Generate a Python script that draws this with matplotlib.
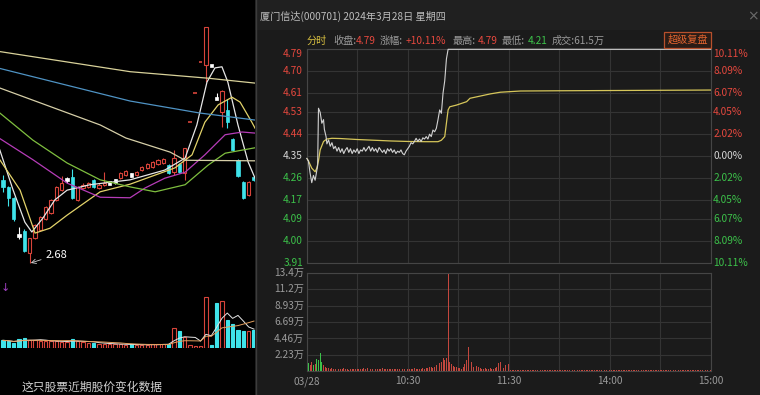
import matplotlib
matplotlib.use('Agg')
import matplotlib.pyplot as plt
import pandas as pd
from matplotlib.patches import Rectangle

plt.rcParams['font.family'] = ['Noto Sans CJK SC', 'DejaVu Sans']

W, H = 760, 395

# ---------------- background daily chart (price in 元, volume in 万手) ----------------
opens = [4.21, 4.08, 3.88, 3.19, 3.27, 2.86, 3.14, 3.29, 3.49, 3.60,
         3.84, 4.02, 4.21, 4.26, 3.84, 4.06, 4.08, 4.21, 4.06, 4.12,
         4.15, 4.19, 4.24, 4.30, 4.30, 4.30, 4.39, 4.43, 4.45, 4.50,
         4.52, 4.48, 4.35, 4.50, 4.34, 5.27, 5.80, 6.38, 6.32, 6.32,
         5.71, 5.46, 5.50, 4.96, 4.58, 4.17, 3.93, 4.26]
closes = [4.08, 3.88, 3.49, 3.19, 2.90, 3.14, 3.38, 3.53, 3.71, 3.84,
          4.08, 4.15, 4.21, 3.88, 4.08, 4.12, 4.15, 4.08, 4.12, 4.15,
          4.15, 4.19, 4.34, 4.37, 4.30, 4.35, 4.45, 4.50, 4.54, 4.58,
          4.60, 4.34, 4.61, 4.35, 4.79, 5.27, 5.80, 6.38, 7.02, 6.32,
          5.69, 5.84, 5.27, 4.76, 4.28, 3.88, 4.17, 4.21]
highs = [4.30, 4.10, 3.90, 3.34, 3.30, 3.14, 3.40, 3.55, 3.73, 3.86,
         4.10, 4.28, 4.26, 4.41, 4.10, 4.15, 4.17, 4.23, 4.15, 4.35,
         4.17, 4.23, 4.36, 4.39, 4.33, 4.37, 4.47, 4.52, 4.56, 4.60,
         4.62, 4.50, 4.76, 4.52, 4.79, 5.27, 5.80, 6.38, 7.02, 6.32,
         5.80, 5.86, 5.70, 4.98, 4.60, 4.19, 4.19, 4.28]
lows = [3.99, 3.73, 3.45, 3.12, 2.88, 2.68, 3.12, 3.27, 3.47, 3.58,
        3.82, 4.00, 4.15, 3.86, 3.82, 4.04, 4.06, 4.06, 4.04, 4.10,
        4.13, 4.13, 4.22, 4.28, 4.26, 4.28, 4.37, 4.41, 4.43, 4.48,
        4.50, 4.32, 4.30, 4.33, 4.21, 5.27, 5.80, 6.38, 6.01, 6.32,
        5.69, 5.18, 5.16, 4.74, 4.26, 3.86, 3.91, 4.19]
volumes = [44, 40, 29, 50, 56, 48, 44, 40, 38, 38,
           40, 35, 36, 50, 38, 33, 29, 29, 25, 25,
           21, 21, 21, 19, 21, 17, 17, 19, 21, 21,
           25, 21, 117, 98, 61.5, 15, 12, 12, 293, 19,
           259, 270, 163, 140, 105, 98, 98, 102]

# moving averages: (candle position, value)
ma_lines = {
    'ma5': ([0.4, 2.9, 5.1, 6.4, 8.5, 10.7, 13, 17.3, 24.8, 31.3, 35.1, 37.3, 39.2, 40.7, 42, 43.1, 45, 46.9, 48.2],
            [4.76, 4.02, 3.43, 3.25, 3.51, 3.84, 4.02, 4.12, 4.21, 4.39, 4.61, 5.22, 6.01, 6.27, 6.29, 6.01, 5.22, 4.54, 4.24]),
    'ma10': ([0.4, 4.2, 7, 9.8, 13, 19.2, 24.8, 33.2, 36.4, 38.8, 41.3, 43.9, 45.4, 47.6, 48.2],
             [4.58, 4.02, 3.23, 3.32, 3.56, 3.99, 4.13, 4.43, 4.67, 5.27, 5.59, 5.73, 5.64, 5.27, 5.16]),
    'ma20': ([0.4, 6.6, 13, 19.2, 24.8, 27.6, 31.3, 35.1, 38.8, 42.6, 45.8, 48.2],
             [4.97, 4.58, 4.15, 3.89, 3.88, 4.06, 4.24, 4.35, 4.67, 5.04, 5.09, 5.07]),
    'ma30': ([0.4, 6.6, 13, 19.2, 24.8, 29.5, 35.1, 39.4, 42.6, 48.2],
             [5.44, 4.94, 4.52, 4.21, 4.08, 3.99, 4.12, 4.48, 4.70, 4.80]),
    'ma60': ([0.4, 9.8, 19.2, 24, 32.3, 35.1, 48.2],
             [5.90, 5.56, 5.22, 4.98, 4.72, 4.57, 4.56]),
    'ma120': ([0.4, 24.8, 37.8, 48.2], [6.26, 5.66, 5.44, 5.31]),
    'ma250': ([0.4, 24.8, 39.4, 48.2], [6.57, 6.20, 6.08, 5.99]),
}
ma_colors = {'ma5': '#e6e6e6', 'ma10': '#e3d36a', 'ma20': '#b63cb8', 'ma30': '#7fbf3f',
             'ma60': '#d6cfa8', 'ma120': '#4f93c4', 'ma250': '#d9d29a'}

# ---------------- popup: intraday 2024-03-28 ----------------
pre_close = 4.35
price_ticks = [4.79, 4.70, 4.61, 4.53, 4.44, 4.35, 4.26, 4.17, 4.09, 4.00, 3.91]
pct_labels = ['10.11%', '8.09%', '6.07%', '4.05%', '2.02%', '0.00%',
              '2.02%', '4.05%', '6.07%', '8.09%', '10.11%']
vol_ticks = [2.23, 4.46, 6.69, 8.93, 11.2, 13.4]
time_ticks = [0, 60, 120, 180, 240]
time_labels = ['03/28', '10:30', '11:30', '14:00', '15:00']

price_pts = [(0, 4.34), (1, 4.33), (2, 4.28), (3, 4.24), (4, 4.27), (5, 4.25), (6, 4.29), (6.5, 4.31),
             (7, 4.547), (8, 4.53), (9, 4.485), (10, 4.50), (10.5, 4.46), (11.5, 4.43), (12, 4.40),
             (13, 4.416), (14, 4.39), (15, 4.405), (16, 4.38), (17, 4.39), (18, 4.37), (19, 4.385),
             (20, 4.365), (21, 4.38), (22, 4.36), (23, 4.375), (24, 4.385), (25, 4.365), (26, 4.38),
             (27, 4.36), (28, 4.375), (29, 4.365), (30, 4.38), (31, 4.36), (32, 4.375), (33, 4.37),
             (34, 4.385), (35, 4.37), (36, 4.38), (37, 4.39), (38, 4.37), (39, 4.385), (40, 4.37),
             (41, 4.38), (42, 4.365), (43, 4.385), (44, 4.375), (45, 4.365), (46, 4.375), (47, 4.36),
             (48, 4.38), (49, 4.37), (50, 4.38), (51, 4.365), (52, 4.375), (53, 4.36), (54, 4.37),
             (55, 4.365), (56, 4.375), (57, 4.36), (58, 4.355), (59, 4.37), (60, 4.38), (61, 4.39),
             (62, 4.405), (63, 4.40), (64, 4.41), (65, 4.423), (66, 4.41), (67, 4.42), (68, 4.41),
             (69, 4.425), (70, 4.42), (71, 4.43), (72, 4.42), (73, 4.44), (74, 4.43), (75, 4.457),
             (76, 4.45), (77, 4.464), (78, 4.50), (79, 4.54), (80, 4.526), (81, 4.61), (82, 4.66),
             (83, 4.75), (84, 4.79), (240, 4.79)]
avg_pts = [(0, 4.34), (1, 4.33), (3, 4.30), (5, 4.285), (6, 4.30), (7, 4.33), (8, 4.375), (10, 4.41),
           (12, 4.42), (15, 4.423), (20, 4.422), (30, 4.418), (40, 4.415), (50, 4.412), (60, 4.41),
           (70, 4.409), (78, 4.409), (80, 4.415), (82, 4.43), (83, 4.485), (84, 4.54), (85, 4.553),
           (89, 4.56), (95, 4.574), (97, 4.588), (103, 4.597), (109, 4.606), (115, 4.613),
           (127, 4.618), (150, 4.619), (180, 4.62), (240, 4.622)]

# per-minute volume (万手), minute 0 = 9:30, minute 120 = 11:30/13:00
vol_morning = [1.27, 1.05, 0.82, 1.27, 0.82, 0.90, 1.60, 1.45, 2.42, 1.27, 0.82, 0.59, 0.45,
               0.35, 0.30, 0.40, 0.28, 0.25, 0.33, 0.30, 0.22, 0.27, 0.35, 0.30, 0.25, 0.20, 0.28, 0.32, 0.25, 0.22, 0.30, 0.26, 0.24,
               0.30, 0.35, 0.28, 0.40, 0.32, 0.25, 0.30, 0.45, 0.28, 0.26, 0.30, 0.22, 0.35, 0.30, 0.25, 0.28, 0.32, 0.24, 0.30, 0.27,
               0.25, 0.30, 0.28, 0.35, 0.22, 0.30, 0.38, 0.30, 0.25, 0.33, 0.28, 0.35, 0.30, 0.26, 0.32, 0.28, 0.35, 0.30, 0.40, 0.45,
               0.50, 0.55, 0.45, 0.60, 0.80, 0.90, 1.05, 1.27, 1.74, 1.50, 1.74, 13.30, 1.27, 0.90, 0.75, 0.60, 0.50, 0.45, 0.40, 0.30,
               0.55, 0.90, 1.50, 3.33, 0.80, 1.20, 0.60, 2.19, 0.70, 0.50, 0.35, 0.30, 0.25, 0.40, 0.30, 0.28, 0.35, 0.30, 0.25, 0.40,
               0.60, 1.05, 1.27, 0.60, 0.45, 0.80, 2.40, 0.90]
vol_afternoon = [0.15, 0.12, 0.10, 0.09, 0.08, 0.10, 0.08, 0.07, 0.09, 0.08, 0.07, 0.08, 0.07, 0.08, 0.09, 0.08, 0.07, 0.07, 0.08, 0.07,
                 0.08, 0.07, 0.09, 0.07, 0.08, 0.08, 0.07, 0.07, 0.08, 0.07, 0.09, 0.07, 0.07, 0.08, 0.07, 0.07, 0.08, 0.08, 0.07, 0.07,
                 0.07, 0.07, 0.08, 0.07, 0.07, 0.08, 0.09, 0.07, 0.07, 0.08, 0.08, 0.07, 0.07, 0.07, 0.08, 0.07, 0.07, 0.08, 0.08, 0.07,
                 0.07, 0.07, 0.08, 0.07, 0.08, 0.07, 0.07, 0.08, 0.07, 0.07, 0.08, 0.08, 0.07, 0.07, 0.07, 0.08, 0.08, 0.07, 0.07, 0.08,
                 0.08, 0.07, 0.08, 0.07, 0.07, 0.08, 0.08, 0.07, 0.07, 0.07, 0.07, 0.08, 0.08, 0.07, 0.07, 0.08, 0.07, 0.07, 0.07, 0.08,
                 0.08, 0.07, 0.07, 0.08, 0.08, 0.07, 0.07, 0.07, 0.07, 0.08, 0.08, 0.07, 0.07, 0.08, 0.08, 0.07, 0.07, 0.08, 0.09, 0.10]
green_minutes = [0, 1, 4, 6, 7, 8, 9, 119]

RED = '#d8443a'
CYAN = '#3fe3ea'
P_RED = '#e5483e'
P_GREEN = '#3cc24a'
GRID = '#343434'
TXT = '#9a9a9a'


def rect(x0, y0, x1, y1):
    # pixel box (top-left origin) -> figure fraction
    return [x0 / W, 1 - y1 / H, (x1 - x0) / W, (y1 - y0) / H]


fig = plt.figure(figsize=(W / 100, H / 100), dpi=100, facecolor='black')

# ---- daily candlestick background ----
axk = fig.add_axes(rect(0, 0, 255, 280))
axk.set_xlim(0.438, 48.19)
axk.set_ylim(2.367, 7.519)
axk.axis('off')

prev = [opens[0]] + closes[:-1]
for i, (o, c, h, l, pc) in enumerate(zip(opens, closes, highs, lows, prev), start=1):
    if h == l:
        if c > pc:
            axk.hlines(c, i - 0.35, i + 0.35, color=RED, lw=1.2, zorder=2)
        else:
            axk.add_patch(Rectangle((i - 0.3, c - 0.03), 0.6, 0.06, fc='white', ec='white', lw=0.5, zorder=2))
    elif abs(c - o) <= 0.02:
        axk.vlines(i, l, h, color='white', lw=0.8, zorder=2)
        axk.add_patch(Rectangle((i - 0.3, (o + c) / 2 - 0.03), 0.6, 0.06, fc='white', ec='white', lw=0.5, zorder=2))
    elif c > o:
        axk.vlines(i, l, o, color=RED, lw=0.8, zorder=2)
        axk.vlines(i, c, h, color=RED, lw=0.8, zorder=2)
        axk.add_patch(Rectangle((i - 0.31, o), 0.62, c - o, fc='black', ec=RED, lw=0.8, zorder=2))
    else:
        axk.vlines(i, l, h, color=CYAN, lw=0.8, zorder=2)
        axk.add_patch(Rectangle((i - 0.31, c), 0.62, o - c, fc=CYAN, ec=CYAN, lw=0.5, zorder=2))

for name, (xs, vs) in ma_lines.items():
    axk.plot(xs, vs, color=ma_colors[name], lw=0.9, zorder=3)

low_i = lows.index(min(lows)) + 1
axk.annotate(f'{min(lows):.2f}', xy=(low_i + 0.2, min(lows)), xytext=(8.9, 2.83),
             color='white', fontsize=8, va='center', ha='left',
             arrowprops=dict(arrowstyle='->', color='#cfcfcf', lw=0.6, shrinkA=1, shrinkB=0))

# ---- daily volume ----
axkv = fig.add_axes(rect(0, 285, 255, 348))
axkv.set_xlim(0.438, 48.19)
axkv.set_ylim(0, 362)
axkv.axis('off')
idx = list(range(1, len(volumes) + 1))
down = [c < o or (c == o and c < pc) for o, c, pc in zip(opens, closes, prev)]
axkv.bar(idx, volumes, width=0.62,
         color=[CYAN if d else 'black' for d in down],
         edgecolor=[CYAN if d else RED for d in down], linewidth=0.8)
vs = pd.Series(volumes)
axkv.plot(idx, vs.rolling(5, min_periods=1).mean(), color='#e6e6e6', lw=0.7)
axkv.plot(idx, vs.rolling(10, min_periods=1).mean(), color='#e3a060', lw=0.7)

fig.text(5 / W, 1 - 288 / H, '↓', color='#a040c0', fontsize=8, ha='center', va='center',
         family='DejaVu Sans')
fig.text(22 / W, 1 - 387 / H, '这只股票近期股价变化数据', color='#d0d0d0', fontsize=8.5,
         ha='left', va='center')

# ---- popup window ----
fig.patches.append(Rectangle((255 / W, 0), 505 / W, 1, transform=fig.transFigure,
                             facecolor='#1b1b1b', edgecolor='none', zorder=1))
fig.patches.append(Rectangle((255 / W, 1 - 30 / H), 505 / W, 30 / H, transform=fig.transFigure,
                             facecolor='#202020', edgecolor='none', zorder=1))
fig.lines.append(plt.Line2D([255.5 / W, 255.5 / W], [0, 1], transform=fig.transFigure,
                            color='#3c3c3c', lw=1, zorder=1.5))

fig.text(260 / W, 1 - 16.5 / H, '厦门信达(000701) 2024年3月28日 星期四', color='#bdbdbd',
         fontsize=7.3, ha='left', va='center')
fig.text(753 / W, 1 - 16.5 / H, '×', color='#6a6a6a', fontsize=10, ha='center', va='center',
         family='DejaVu Sans')

info = [(307, '分时', '#d9c040'), (333, '收盘:', TXT), (356, '4.79', P_RED),
        (380, '涨幅:', TXT), (406, '+10.11%', P_RED), (453, '最高:', TXT),
        (478, '4.79', P_RED), (502, '最低:', TXT), (528, '4.21', P_GREEN),
        (552, '成交:61.5万', TXT)]
for x, s, col in info:
    fig.text(x / W, 1 - 41 / H, s, color=col, fontsize=7.3, ha='left', va='center')

fig.patches.append(Rectangle((664 / W, 1 - 48 / H), 47 / W, 16 / H, transform=fig.transFigure,
                             facecolor='#2a1c16', edgecolor='#b8502c', lw=0.9, zorder=2))
fig.text(687.5 / W, 1 - 40 / H, '超级复盘', color='#e2642f', fontsize=7.3,
         ha='center', va='center', zorder=3)

# ---- intraday price ----
axp = fig.add_axes(rect(306.7, 49.3, 710.7, 262.7), zorder=2)
axp.set_facecolor('#1b1b1b')
axp.set_xlim(0, 240)
axp.set_ylim(min(price_ticks), max(price_ticks))
axp.set_xticks(range(0, 241, 30))
axp.set_yticks(price_ticks)
axp.grid(color=GRID, lw=0.8)
axp.tick_params(length=0, labelleft=False, labelbottom=False)
for sp in axp.spines.values():
    sp.set_color('#454545')
    sp.set_linewidth(0.8)

pt, pv = zip(*price_pts)
at, av = zip(*avg_pts)
axp.plot(at, av, color='#d6c65a', lw=0.9, zorder=3)
axp.plot(pt, pv, color='#d2d2d2', lw=0.8, zorder=4, clip_on=False)

ytr = axp.get_yaxis_transform()
for k, (p, lab) in enumerate(zip(price_ticks, pct_labels)):
    col = P_RED if p > pre_close else (P_GREEN if p < pre_close else '#d8d8d8')
    va = 'top' if k == 0 else 'center'
    axp.text(-0.009, p, f'{p:.2f}', transform=ytr, color=col, fontsize=7.3,
             ha='right', va=va, clip_on=False)
    axp.text(1.006, p, lab, transform=ytr, color=col, fontsize=7.3,
             ha='left', va=va, clip_on=False)

# ---- intraday volume ----
axv = fig.add_axes(rect(306.7, 273.3, 710.7, 371), zorder=2)
axv.set_facecolor('#1b1b1b')
axv.set_xlim(0, 240)
axv.set_ylim(0, max(vol_ticks))
axv.set_xticks(range(0, 241, 30))
axv.set_yticks(vol_ticks)
axv.grid(color=GRID, lw=0.8)
axv.tick_params(length=0, labelleft=False, labelbottom=False)
for sp in axv.spines.values():
    sp.set_color('#454545')
    sp.set_linewidth(0.8)

vol_all = vol_morning + vol_afternoon
minutes = list(range(len(vol_all)))
axv.bar(minutes, vol_all, width=0.55,
        color=[P_GREEN if m in green_minutes else '#c4473e' for m in minutes], zorder=3)

vtr = axv.get_yaxis_transform()
for v in vol_ticks:
    axv.text(-0.006, v, f'{v:g}万', transform=vtr, color=TXT, fontsize=7.3,
             ha='right', va='center', clip_on=False)
xtr = axv.get_xaxis_transform()
for t, lab in zip(time_ticks, time_labels):
    axv.text(t, -0.105, lab, transform=xtr, color=TXT, fontsize=7.3,
             ha='center', va='center', clip_on=False)

fig.savefig('out.png', dpi=100, facecolor='black')
